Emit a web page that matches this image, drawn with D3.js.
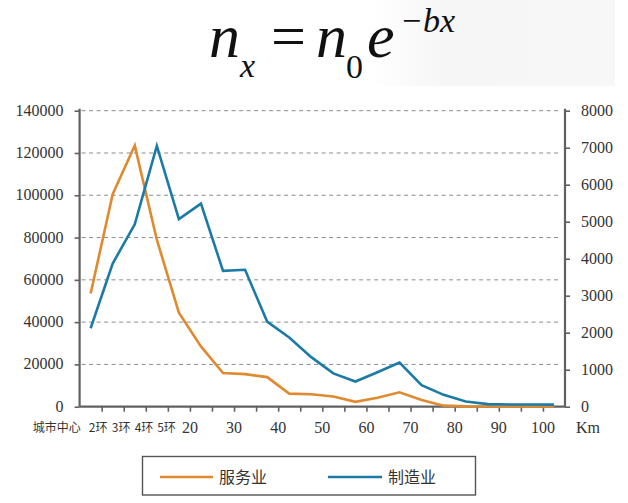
<!DOCTYPE html>
<html><head><meta charset="utf-8">
<script src="https://cdn.jsdelivr.net/npm/d3@7/dist/d3.min.js"></script>
</head><body style="margin:0;background:#fff">
<svg id="chart" width="628" height="503" style="display:block"></svg>
<script>
// ---- data ----
const kmMid = [-2.5, 2.5, 7.5, 12.5, 17.5, 22.5, 27.5, 32.5, 37.5, 42.5, 47.5, 52.5, 57.5, 62.5, 67.5, 72.5, 77.5, 82.5, 87.5, 92.5, 97.5, 102.5];
const service = [53500, 100500, 123500, 79000, 44500, 28500, 15900, 15400, 14000, 6200, 5900, 4800, 2300, 4200, 6800, 3200, 500, 150, 100, 100, 100, 100];
const manufacturing = [2120, 3870, 4930, 7050, 5070, 5490, 3670, 3700, 2300, 1870, 1340, 900, 680, 930, 1190, 580, 320, 140, 70, 60, 60, 55];
const seriesNames = ["服务业", "制造业"];
const leftTicks = [0, 20000, 40000, 60000, 80000, 100000, 120000, 140000];
const rightTicks = [0, 1000, 2000, 3000, 4000, 5000, 6000, 7000, 8000];
const xTickKm = [0,5,10,15,20,25,30,35,40,45,50,55,60,65,70,75,80,85,90,95,100];
const kmLabels = [20, 30, 40, 50, 60, 70, 80, 90, 100];
const ringLabels = ["城市中心", "2环", "3环", "4环", "5环"];
const ringKm = [-10.2, -0.8, 4.4, 9.6, 14.7];
const unitLabel = "Km";

// ---- layout ----
const colors = ["#e08a30", "#1c7ba6"];
const axisColor = "#606060";
const SERIF = '"Times New Roman"';
const CJK = '"Noto Sans CJK SC"';

const svg = d3.select("#chart");

// formula background
const defs = svg.append("defs");
const grad = defs.append("linearGradient").attr("id","bg").attr("x1","0").attr("x2","1").attr("y1","0").attr("y2","0");
grad.append("stop").attr("offset","0").attr("stop-color","#f6f6f6").attr("stop-opacity",0);
grad.append("stop").attr("offset","0.3").attr("stop-color","#f6f6f6").attr("stop-opacity",1);
grad.append("stop").attr("offset","1").attr("stop-color","#f7f7f7").attr("stop-opacity",1);
svg.append("rect").attr("x",370).attr("y",0).attr("width",245).attr("height",86).attr("fill","url(#bg)");

// formula  n_x = n_0 e^{-bx}
const fparts = [
  {t:"n", x:209, y:57, s:62, it:true},
  {t:"x", x:240, y:77, s:34, it:true},
  {t:"=", x:271, y:57, s:62, it:false},
  {t:"n", x:316, y:57, s:62, it:true},
  {t:"0", x:346, y:78, s:34, it:false},
  {t:"e", x:367, y:57, s:62, it:true},
  {t:"−bx", x:400, y:32, s:34, it:true}
];
fparts.forEach(d => {
  svg.append("text").attr("x", d.x).attr("y", d.y).attr("fill", "#111")
    .style("font-family", SERIF).style("font-size", d.s + "px")
    .style("font-style", d.it ? "italic" : "normal").text(d.t);
});

// scales
const x = d3.scaleLinear().domain([-5, 105]).range([79.6, 565]);
const yL = d3.scaleLinear().domain([0, 140000]).range([406.7, 110.7]);
const yR = d3.scaleLinear().domain([0, 8000]).range([406.7, 110.7]);

// gridlines
svg.append("g").selectAll("line").data(leftTicks.filter(d => d > 0)).join("line")
  .attr("x1", x(-5) + 2).attr("x2", x(105) - 4)
  .attr("y1", d => yL(d)).attr("y2", d => yL(d))
  .attr("stroke", "#8c8c8c").attr("stroke-width", 1).attr("stroke-dasharray", "4,3.5");

// axes (ticks only; labels drawn as separate texts)
const gL = svg.append("g").attr("transform", `translate(${x(-5)},0)`)
  .call(d3.axisLeft(yL).tickValues(leftTicks).tickSize(5).tickFormat(""));
const gR = svg.append("g").attr("transform", `translate(${x(105)},0)`)
  .call(d3.axisRight(yR).tickValues(rightTicks).tickSize(5).tickFormat(""));
const gB = svg.append("g").attr("transform", `translate(0,${yL(0)})`)
  .call(d3.axisBottom(x).tickValues(xTickKm).tickSize(5).tickFormat(""));
[gL, gR, gB].forEach(g => {
  g.select(".domain").attr("stroke", axisColor).attr("stroke-width", 2.2);
  g.selectAll(".tick line").attr("stroke", axisColor).attr("stroke-width", 1.6);
});
gL.select(".domain").attr("d", `M0,${yR(8000)-2}V${yL(0)}`);
gR.select(".domain").attr("d", `M0,${yR(8000)-2}V${yL(0)}`);
gB.select(".domain").attr("d", `M${x(-5)},0H${x(105)}`);

function label(tx, ty, str, anchor, fam, size) {
  svg.append("text").attr("x", tx).attr("y", ty).attr("text-anchor", anchor).attr("fill", "#333")
    .style("font-family", fam).style("font-size", size + "px").text(str);
}
leftTicks.forEach(v => label(x(-5) - 16, yL(v) + 5, v, "end", SERIF, 16));
rightTicks.forEach(v => label(x(105) + 16, yR(v) + 5, v, "start", SERIF, 16));
kmLabels.forEach(v => label(x(v), 433, v, "middle", SERIF, 16));
ringLabels.forEach((t, i) => label(x(ringKm[i]), 432, t, "middle", CJK, 12));
label(576, 433, unitLabel, "start", SERIF, 16);

// lines
const lineL = d3.line().x((d,i) => x(kmMid[i])).y(d => yL(d));
const lineR = d3.line().x((d,i) => x(kmMid[i])).y(d => yR(d));
svg.append("path").datum(service).attr("d", lineL).attr("fill","none")
  .attr("stroke", colors[0]).attr("stroke-width", 2.6).attr("stroke-linejoin","miter");
svg.append("path").datum(manufacturing).attr("d", lineR).attr("fill","none")
  .attr("stroke", colors[1]).attr("stroke-width", 2.6).attr("stroke-linejoin","miter");

// legend
svg.append("rect").attr("x", 142.5).attr("y", 456.5).attr("width", 333).attr("height", 38.5)
  .attr("fill", "#fff").attr("stroke", "#555").attr("stroke-width", 1.4);
const items = [{x1:160, x2:213, tx:219}, {x1:328, x2:382, tx:388}];
items.forEach((it, i) => {
  svg.append("line").attr("x1", it.x1).attr("x2", it.x2).attr("y1", 477).attr("y2", 477)
    .attr("stroke", colors[i]).attr("stroke-width", 2.6);
  label(it.tx, 483, seriesNames[i], "start", CJK, 16);
});
</script>
</body></html>
